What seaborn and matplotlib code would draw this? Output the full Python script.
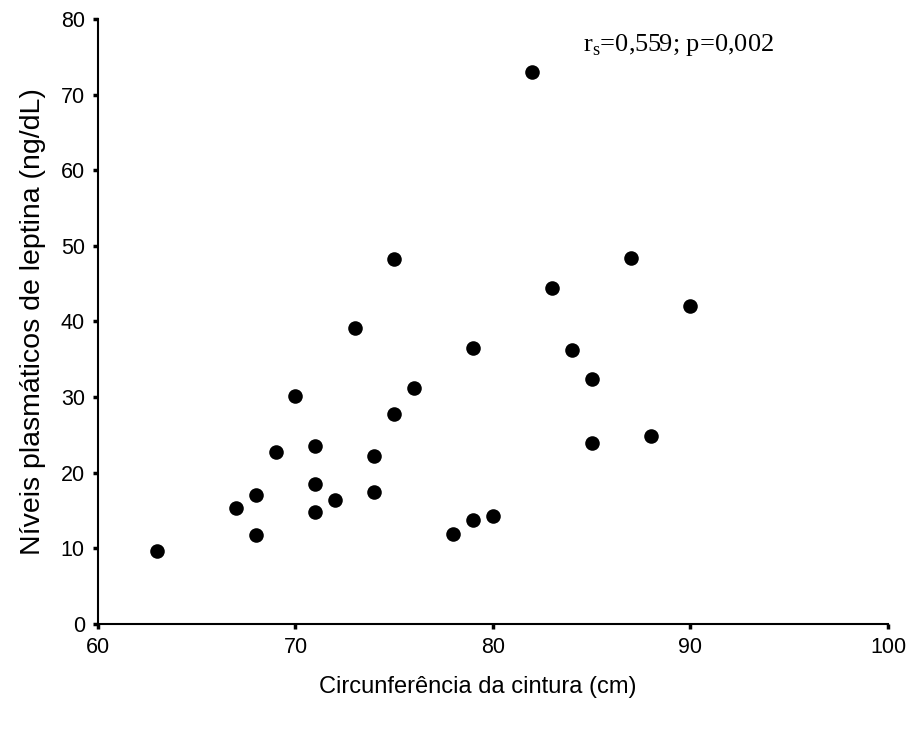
import matplotlib
matplotlib.use("Agg")
import matplotlib.pyplot as plt
import seaborn as sns
import pandas as pd

waist_cm = [63, 67, 68, 68, 69, 70, 71, 71, 71, 72, 73, 74, 74, 75, 75, 76,
            78, 79, 79, 80, 82, 83, 84, 85, 85, 87, 88, 90]
leptin = [9.7, 15.3, 11.8, 17.1, 22.7, 30.2, 23.5, 18.5, 14.8, 16.4, 39.1, 22.2,
          17.4, 48.3, 27.8, 31.2, 11.9, 13.8, 36.5, 14.3, 73.0, 44.4, 36.2, 32.4,
          24.0, 48.4, 24.9, 42.0]
x_ticks = [60, 70, 80, 90, 100]
y_ticks = [0, 10, 20, 30, 40, 50, 60, 70, 80]
x_label = "Circunferência da cintura (cm)"
y_label = "Níveis plasmáticos de leptina (ng/dL)"
annotation = r"r$_\mathrm{s}$=0,559; p=0,002"

sns.set_theme(style="ticks")
plt.rcParams["font.family"] = ["Liberation Sans", "DejaVu Sans"]
plt.rcParams["mathtext.fontset"] = "custom"
plt.rcParams["mathtext.rm"] = "Liberation Serif"

df = pd.DataFrame({"x": waist_cm, "y": leptin})

fig = plt.figure(figsize=(9.07, 7.29), dpi=100)
ax = fig.add_axes([0.108, 0.144, 0.871, 0.830])
sns.scatterplot(data=df, x="x", y="y", ax=ax, s=110, color="black",
                edgecolor="black", linewidth=0)

ax.set_xlim(60, 100)
ax.set_ylim(0, 80)
ax.set_xticks(x_ticks)
ax.set_yticks(y_ticks)
for s in ["top", "right"]:
    ax.spines[s].set_visible(False)
for s in ["left", "bottom"]:
    ax.spines[s].set_linewidth(1.5)
    ax.spines[s].set_color("black")
ax.tick_params(axis="both", direction="out", length=3.5, width=2.5,
               color="black", labelsize=15.5, labelcolor="black", pad=6)
ax.set_xlabel(x_label, fontsize=17, color="black")
ax.set_ylabel(y_label, fontsize=20.5, color="black")
ax.xaxis.set_label_coords(0.481, -0.086)
ax.yaxis.set_label_coords(-0.066, 0.5)

ax.text(89.4, 76.6, annotation, ha="center", va="center", fontsize=19,
        family="Liberation Serif", color="black")

fig.savefig("out.png", dpi=100, facecolor="white")
